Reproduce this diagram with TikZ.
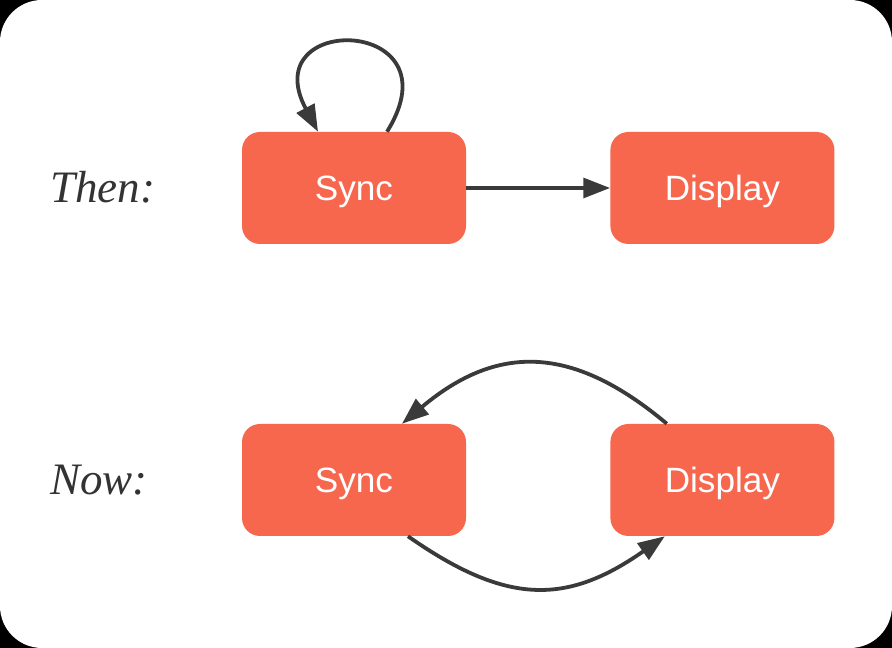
\documentclass[tikz,border=0pt]{standalone}
\usepackage{fontspec}
\setsansfont{Liberation Sans}
\newfontfamily\lblfont{Liberation Serif}
\usetikzlibrary{arrows.meta, positioning}
\definecolor{cbox}{HTML}{F6674D}
\definecolor{cdark}{HTML}{3A3A3A}
\definecolor{clabel}{HTML}{333333}

\begin{document}
\begin{tikzpicture}[
    box/.style={rectangle, fill=cbox, rounded corners=0.45cm, minimum width=5.6cm, minimum height=2.8cm, text height=18pt, text depth=0pt, text=white, font=\sffamily\fontsize{25}{30}\selectfont},
    lbl/.style={anchor=west, text=clabel, inner sep=0pt, text height=21pt, text depth=0pt, font=\lblfont\itshape\fontsize{32}{38}\selectfont},
    flow/.style={-{Triangle[length=19pt, width=14pt]}, line width=2.7pt, cdark}
]
\fill[black] (0,0) rectangle (22.3,16.2);
\fill[white, rounded corners=1.05cm] (0,0) rectangle (22.3,16.2);
\useasboundingbox (0,0) rectangle (22.3,16.2);
\node[lbl] (then) at (1.25,11.5) {Then:};
\node[lbl] (now) at (1.25,4.2) {Now:};
\node[box] (s1) at (8.85,11.5) {Sync};
\node[box] (d1) at (18.06,11.5) {Display};
\node[box] (s2) at (8.85,4.2) {Sync};
\node[box] (d2) at (18.06,4.2) {Display};
\draw[flow] ([xshift=0.825cm]s1.north) .. controls +(58:3.4) and +(118:3.4) .. ([xshift=-0.9cm]s1.north);
\draw[flow] (s1) -- (d1);
\draw[flow] ([xshift=-1.39cm]d2.north) to[out=140, in=40, looseness=1.2] ([xshift=1.2cm]s2.north);
\draw[flow] ([xshift=1.35cm]s2.south) to[out=-35, in=-145, looseness=1.2] ([xshift=-1.44cm]d2.south);
\end{tikzpicture}
\end{document}
